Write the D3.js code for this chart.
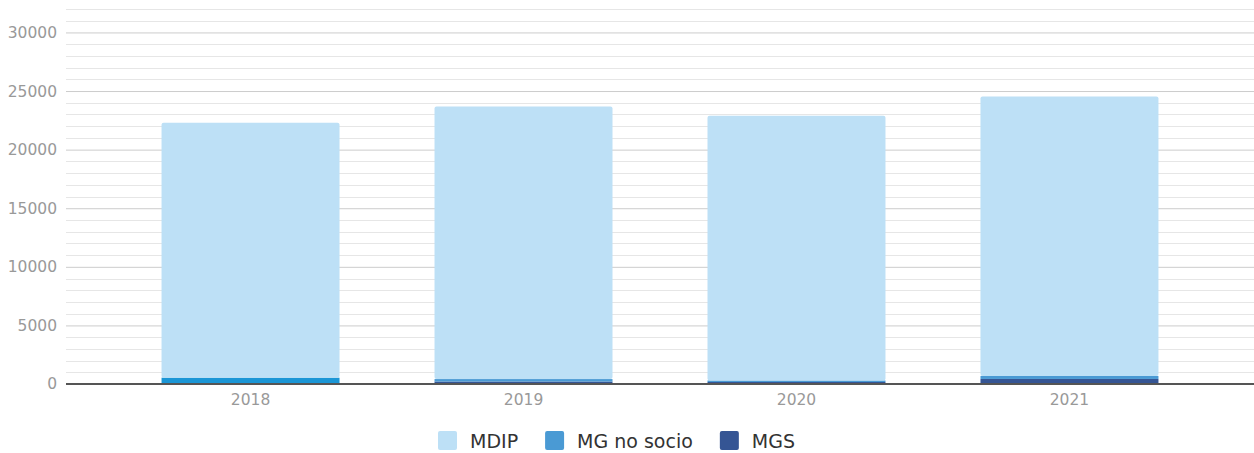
<!DOCTYPE html>
<html>
<head>
<meta charset="utf-8">
<script src="https://cdn.jsdelivr.net/npm/d3@7"></script>
<style>
  body { margin: 0; background: #fff; }
  svg { display: block; font-family: "DejaVu Sans", Verdana, sans-serif; }
</style>
</head>
<body>
<div id="chart"></div>
<script>
// data
var years = ['2018', '2019', '2020', '2021'];
var seriesNames = ['MGS', 'MG no socio', 'MDIP']; // bottom to top
var mgs = [0, 210, 170, 430];
var mgNoSocio = [540, 210, 130, 260];
var mdip = [21760, 23260, 22600, 23840];
var yTicks = [0, 5000, 10000, 15000, 20000, 25000, 30000];
var legendOrder = ['MDIP', 'MG no socio', 'MGS'];

var colors = { 'MDIP': '#bde0f6', 'MG no socio': '#4a9ad4', 'MGS': '#355594' };

var width = 1254, height = 453;
var plotLeft = 66, plotRight = 1254, plotTop = 9, plotBottom = 384;

var rows = years.map(function (y, i) {
  return { year: y, 'MGS': mgs[i], 'MG no socio': mgNoSocio[i], 'MDIP': mdip[i] };
});
var stacked = d3.stack().keys(seriesNames)(rows);

var x = d3.scaleBand().domain(years).range([plotLeft, plotRight]).paddingInner(0.348).paddingOuter(0.35);
var y = d3.scaleLinear().domain([0, 32000]).range([plotBottom, plotTop]);

var svg = d3.select('#chart').append('svg')
  .attr('width', width).attr('height', height);

// minor grid every 1000
var minor = d3.range(1000, 32001, 1000).filter(function (v) { return v % 5000 !== 0; });
svg.append('g').selectAll('line').data(minor).join('line')
  .attr('x1', plotLeft).attr('x2', plotRight)
  .attr('y1', function (d) { return Math.round(y(d)) + 0.5; })
  .attr('y2', function (d) { return Math.round(y(d)) + 0.5; })
  .attr('stroke', '#e6e6e6').attr('stroke-width', 1);

// y axis with major grid
var yAxis = svg.append('g')
  .attr('transform', 'translate(' + plotLeft + ',0)')
  .call(d3.axisLeft(y).tickValues(yTicks).tickSize(-(plotRight - plotLeft)).tickPadding(9).tickFormat(d3.format('d')));
yAxis.select('.domain').remove();
yAxis.selectAll('.tick line').attr('stroke', '#cccccc');
yAxis.selectAll('.tick text').attr('fill', '#999').style('font-size', '15.5px')
  .style('font-family', '"DejaVu Sans", Verdana, sans-serif');

// bars
svg.append('g').selectAll('g').data(stacked).join('g')
  .each(function (s) {
    d3.select(this).selectAll('rect').data(s).join('rect')
      .attr('x', function (d) { return x(d.data.year); })
      .attr('width', x.bandwidth())
      .attr('y', function (d) { return y(d[1]); })
      .attr('height', function (d) { return Math.max(0, y(d[0]) - y(d[1])); })
      .attr('rx', s.key === 'MDIP' ? 2 : 0)
      .attr('fill', function (d) {
        // 2018 lower segment is drawn in a brighter blue in the original
        if (s.key === 'MG no socio' && d.data.year === '2018') return '#1b96d6';
        return colors[s.key];
      });
  });

// x axis
var xAxis = svg.append('g')
  .attr('transform', 'translate(0,' + plotBottom + ')')
  .call(d3.axisBottom(x).tickSize(0).tickPadding(10));
xAxis.select('.domain').attr('stroke', '#555').attr('stroke-width', 2)
  .attr('d', 'M' + plotLeft + ',0H' + plotRight);
xAxis.selectAll('.tick text').attr('fill', '#999').style('font-size', '15.5px')
  .style('font-family', '"DejaVu Sans", Verdana, sans-serif');

// legend
var legend = svg.append('g');
var lx = 438;
legendOrder.forEach(function (name) {
  var g = legend.append('g').attr('transform', 'translate(' + lx + ',431)');
  g.append('rect').attr('width', 19).attr('height', 19).attr('rx', 2).attr('fill', colors[name]);
  var t = g.append('text').attr('x', 32).attr('y', 17)
    .attr('fill', '#333').style('font-size', '19px').text(name);
  lx += 32 + t.node().getComputedTextLength() + 27;
});
</script>
</body>
</html>
